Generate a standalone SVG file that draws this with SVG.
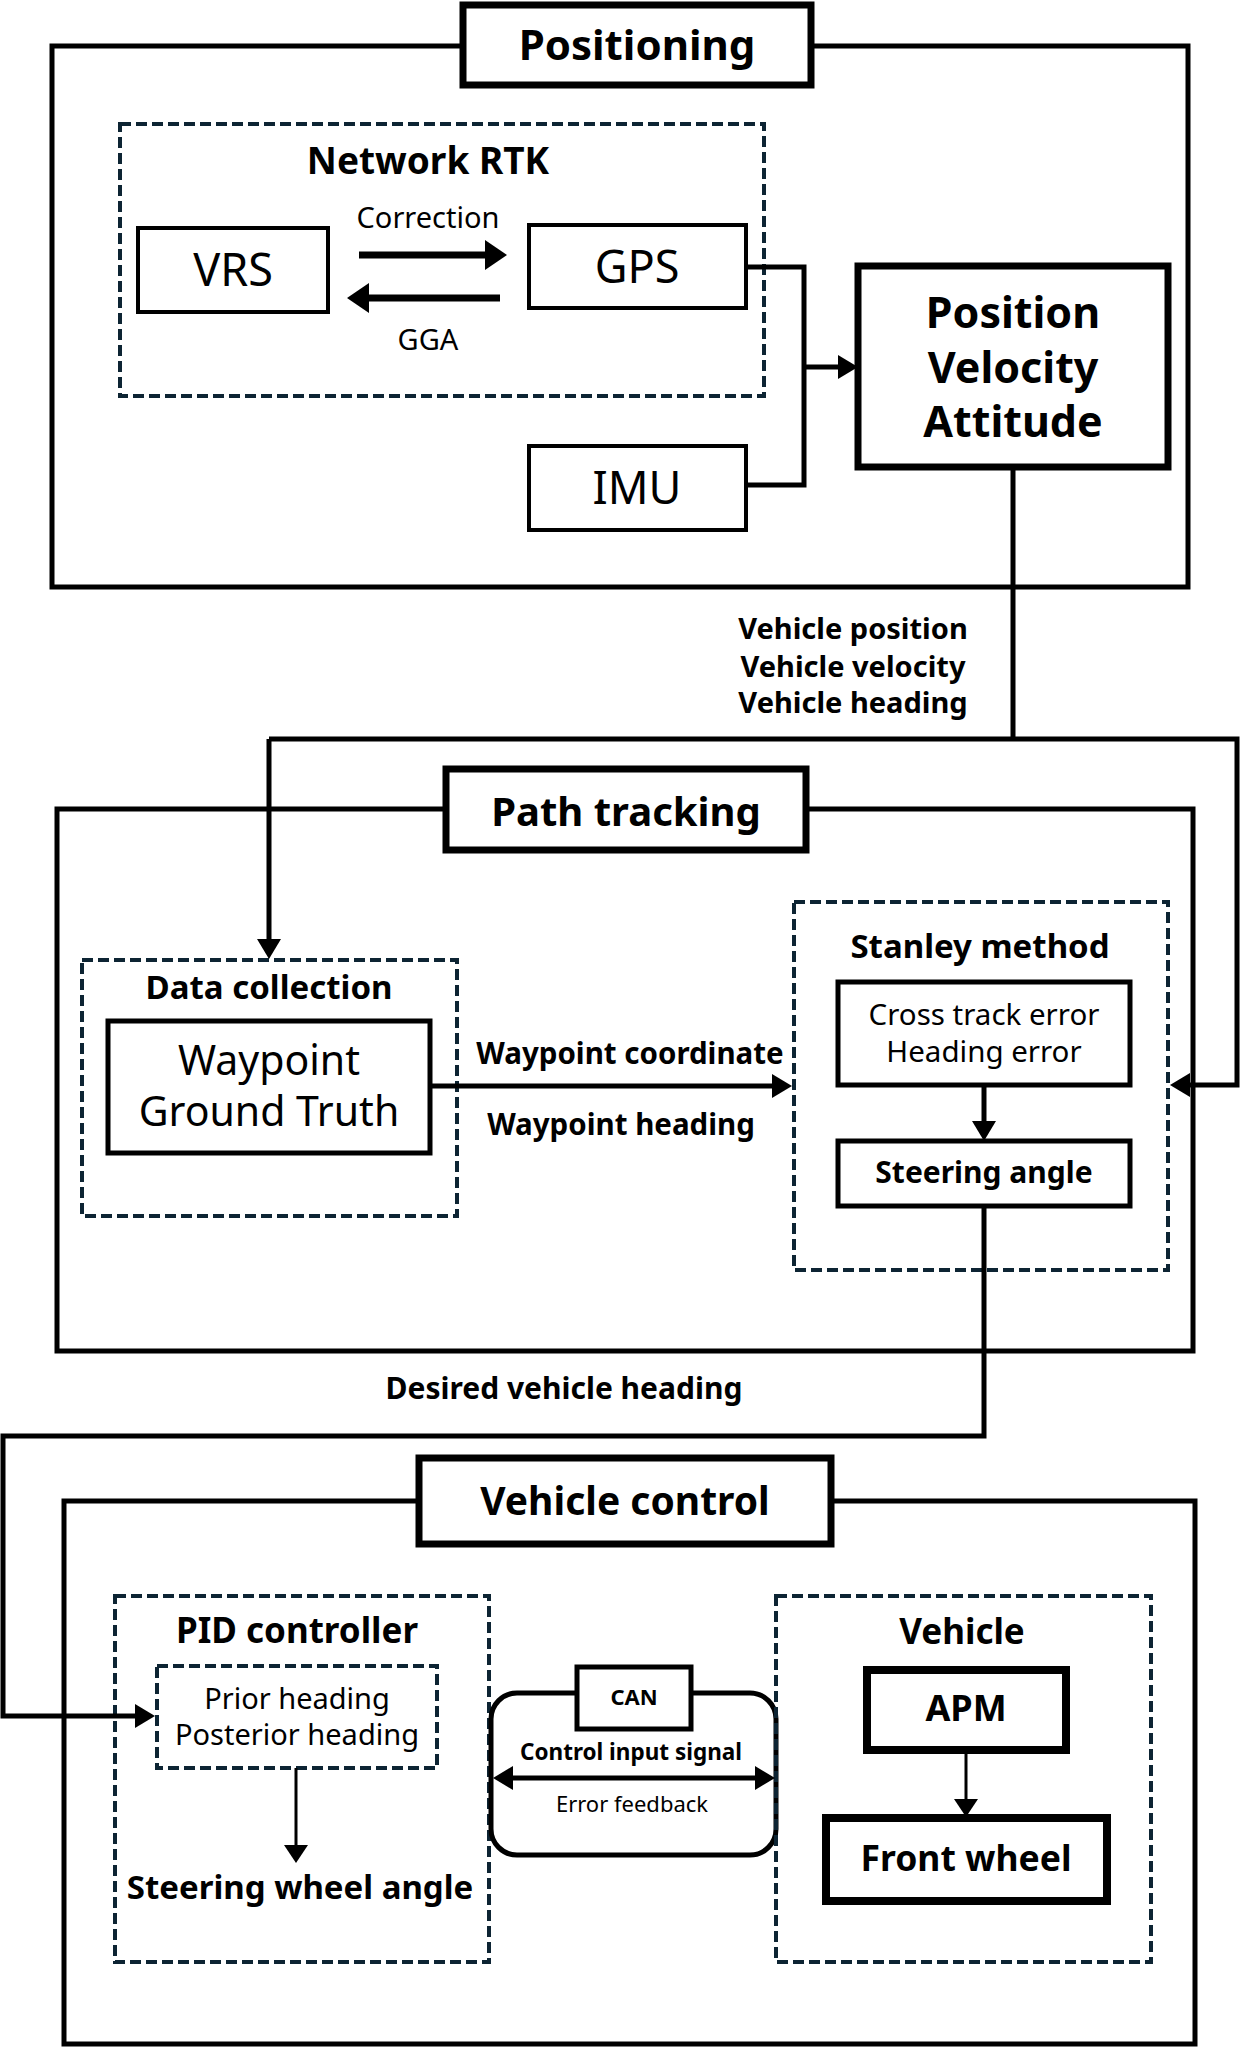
<svg xmlns="http://www.w3.org/2000/svg" width="1241" height="2048" viewBox="0 0 1241 2048">
<defs>
<style>
text{font-family:"Noto Sans","Open Sans","DejaVu Sans",sans-serif;fill:#000;text-anchor:middle}
.b{font-weight:bold}
.sec{fill:none;stroke:#000;stroke-width:5}
.title{fill:#fff;stroke:#000;stroke-width:7}
.dash{fill:none;stroke:#0d2433;stroke-width:4;stroke-dasharray:11 5}
.box{fill:#fff;stroke:#000;stroke-width:4}
.box5{fill:#fff;stroke:#000;stroke-width:5}
.box8{fill:#fff;stroke:#000;stroke-width:8}
.ln{fill:none;stroke:#000;stroke-width:5}
.thick{fill:none;stroke:#000;stroke-width:7}
.thin{fill:none;stroke:#000;stroke-width:3}
</style>
<marker id="ah" markerUnits="userSpaceOnUse" viewBox="0 0 20 24" refX="2" refY="12" markerWidth="20" markerHeight="24" orient="auto-start-reverse"><path d="M0,0 L20,12 L0,24 z" fill="#000"/></marker>
<marker id="ahb" markerUnits="userSpaceOnUse" viewBox="0 0 22 30" refX="2" refY="15" markerWidth="22" markerHeight="30" orient="auto"><path d="M0,0 L22,15 L0,30 z" fill="#000"/></marker>
<marker id="ahs" markerUnits="userSpaceOnUse" viewBox="0 0 18 24" refX="2" refY="12" markerWidth="18" markerHeight="24" orient="auto"><path d="M0,0 L18,12 L0,24 z" fill="#000"/></marker>
</defs>
<rect width="1241" height="2048" fill="#fff"/>

<g id="positioning">
<rect class="sec" x="52" y="46" width="1136" height="541"/>
<rect class="title" x="463" y="5" width="348" height="80"/>
<text class="b" x="637" y="60" font-size="42">Positioning</text>
</g>
<g id="network-rtk">
<rect class="dash" x="120" y="124" width="644" height="272"/>
<text class="b" x="428" y="174" font-size="37">Network RTK</text>
<text x="428" y="228" font-size="29">Correction</text>
<text x="428" y="350" font-size="29">GGA</text>
</g>
<g id="vrs"><rect class="box" x="138" y="228" width="190" height="84"/><text x="233" y="286" font-size="45">VRS</text></g>
<g id="gps"><rect class="box" x="529" y="225" width="217" height="83"/><text x="637" y="283" font-size="45">GPS</text></g>
<g id="imu"><rect class="box" x="529" y="446" width="217" height="84"/><text x="637" y="504" font-size="45">IMU</text></g>
<g id="pva">
<rect x="858" y="266" width="310" height="201" fill="#fff" stroke="#000" stroke-width="7"/>
<text class="b" x="1013" y="328" font-size="43">Position</text>
<text class="b" x="1013" y="383" font-size="43">Velocity</text>
<text class="b" x="1013" y="437" font-size="43">Attitude</text>
</g>

<g id="path-tracking">
<rect class="sec" x="57" y="809" width="1136" height="542"/>
<rect class="title" x="446" y="769" width="360" height="81"/>
<text class="b" x="626" y="826" font-size="40">Path tracking</text>
</g>
<g id="data-collection">
<rect class="dash" x="82" y="960" width="375" height="256"/>
<text class="b" x="269" y="999" font-size="33">Data collection</text>
</g>
<g id="waypoint">
<rect class="box5" x="108" y="1021" width="322" height="132"/>
<text x="269" y="1075" font-size="41">Waypoint</text>
<text x="269" y="1126" font-size="41">Ground Truth</text>
</g>
<g id="stanley">
<rect class="dash" x="794" y="902" width="374" height="368"/>
<text class="b" x="980" y="958" font-size="33">Stanley method</text>
</g>
<g id="errors">
<rect class="box5" x="838" y="982" width="292" height="103"/>
<text x="984" y="1025" font-size="29.5">Cross track error</text>
<text x="984" y="1062" font-size="29.5">Heading error</text>
</g>
<g id="steering-angle">
<rect class="box5" x="838" y="1141" width="292" height="65"/>
<text class="b" x="984" y="1183" font-size="30">Steering angle</text>
</g>

<g id="vehicle-control">
<rect class="sec" x="64" y="1501" width="1131" height="543"/>
<rect class="title" x="419" y="1458" width="412" height="86"/>
<text class="b" x="625" y="1515" font-size="39">Vehicle control</text>
</g>
<g id="pid">
<rect class="dash" x="115" y="1596" width="374" height="366"/>
<text class="b" x="297" y="1643" font-size="35">PID controller</text>
<text class="b" x="300" y="1899" font-size="33">Steering wheel angle</text>
</g>
<g id="heading-inputs">
<rect class="dash" x="157" y="1666" width="280" height="102"/>
<text x="297" y="1709" font-size="29">Prior heading</text>
<text x="297" y="1745" font-size="29">Posterior heading</text>
</g>
<g id="can">
<rect x="491" y="1693" width="285" height="162" rx="26" fill="none" stroke="#000" stroke-width="5"/>
<rect class="box5" x="577" y="1667" width="114" height="62"/>
<text class="b" x="634" y="1705" font-size="22">CAN</text>
<text class="b" x="631" y="1760" font-size="22.5">Control input signal</text>
<text x="632" y="1812" font-size="22">Error feedback</text>
</g>
<g id="vehicle">
<rect class="dash" x="776" y="1596" width="375" height="366"/>
<text class="b" x="962" y="1644" font-size="35">Vehicle</text>
</g>
<g id="apm"><rect class="box8" x="867" y="1670" width="199" height="80"/><text class="b" x="966" y="1721" font-size="36">APM</text></g>
<g id="front-wheel"><rect class="box8" x="826" y="1818" width="281" height="83"/><text class="b" x="966" y="1871" font-size="35.5">Front wheel</text></g>

<g id="connectors">
<line class="thick" x1="359" y1="255" x2="487" y2="255" marker-end="url(#ahb)"/>
<line class="thick" x1="500" y1="298" x2="367" y2="298" marker-end="url(#ahb)"/>
<polyline class="ln" points="746,267 804,267 804,485 746,485"/>
<line class="ln" x1="804" y1="367" x2="840" y2="367" marker-end="url(#ah)"/>
<polyline class="ln" points="1013,467 1013,739"/>
<polyline class="ln" points="269,739 1237,739 1237,1085 1188,1085" marker-end="url(#ah)"/>
<line class="ln" x1="269" y1="739" x2="269" y2="941" marker-end="url(#ah)"/>
<line class="ln" x1="430" y1="1086" x2="774" y2="1086" marker-end="url(#ah)"/>
<line class="ln" x1="984" y1="1085" x2="984" y2="1123" marker-end="url(#ah)"/>
<polyline class="ln" points="984,1206 984,1436 3,1436 3,1716 137,1716" marker-end="url(#ah)"/>
<line class="thin" x1="296" y1="1768" x2="296" y2="1847" marker-end="url(#ahs)"/>
<line class="ln" x1="511" y1="1778" x2="757" y2="1778" marker-start="url(#ah)" marker-end="url(#ah)"/>
<line class="thin" x1="966" y1="1750" x2="966" y2="1801" marker-end="url(#ahs)"/>
<text class="b" x="853" y="639" font-size="29">Vehicle position</text>
<text class="b" x="853" y="677" font-size="29">Vehicle velocity</text>
<text class="b" x="853" y="713" font-size="29">Vehicle heading</text>
<text class="b" x="630" y="1064" font-size="29.5">Waypoint coordinate</text>
<text class="b" x="621" y="1135" font-size="29.5">Waypoint heading</text>
<text class="b" x="564" y="1399" font-size="30">Desired vehicle heading</text>
</g>
</svg>
